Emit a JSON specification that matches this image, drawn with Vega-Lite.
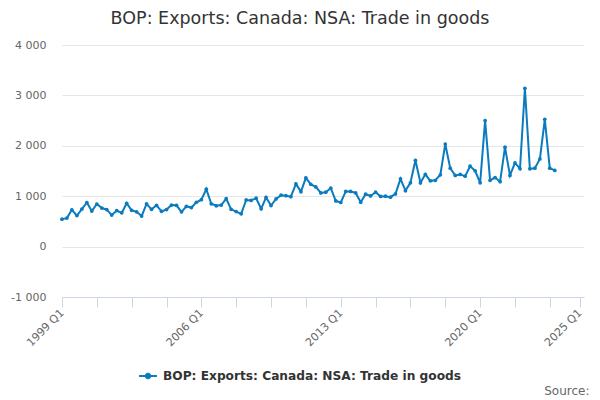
{
  "$schema": "https://vega.github.io/schema/vega-lite/v6.json",
  "autosize": "none",
  "width": 522,
  "height": 252,
  "padding": {"left": 62, "top": 45, "right": 16, "bottom": 103},
  "background": "white",
  "config": {
    "font": "DejaVu Sans",
    "view": {"stroke": null}
  },
  "title": {
    "text": "BOP: Exports: Canada: NSA: Trade in goods",
    "font": "DejaVu Sans",
    "fontSize": 17.5,
    "fontWeight": "normal",
    "color": "#333333",
    "anchor": "middle",
    "dx": -23,
    "offset": 12
  },
  "data": {
    "values": [
      {"quarter": "1999-01-01", "value": 545, "series": "BOP: Exports: Canada: NSA: Trade in goods"},
      {"quarter": "1999-04-01", "value": 565, "series": "BOP: Exports: Canada: NSA: Trade in goods"},
      {"quarter": "1999-07-01", "value": 730, "series": "BOP: Exports: Canada: NSA: Trade in goods"},
      {"quarter": "1999-10-01", "value": 615, "series": "BOP: Exports: Canada: NSA: Trade in goods"},
      {"quarter": "2000-01-01", "value": 745, "series": "BOP: Exports: Canada: NSA: Trade in goods"},
      {"quarter": "2000-04-01", "value": 875, "series": "BOP: Exports: Canada: NSA: Trade in goods"},
      {"quarter": "2000-07-01", "value": 705, "series": "BOP: Exports: Canada: NSA: Trade in goods"},
      {"quarter": "2000-10-01", "value": 845, "series": "BOP: Exports: Canada: NSA: Trade in goods"},
      {"quarter": "2001-01-01", "value": 765, "series": "BOP: Exports: Canada: NSA: Trade in goods"},
      {"quarter": "2001-04-01", "value": 735, "series": "BOP: Exports: Canada: NSA: Trade in goods"},
      {"quarter": "2001-07-01", "value": 625, "series": "BOP: Exports: Canada: NSA: Trade in goods"},
      {"quarter": "2001-10-01", "value": 715, "series": "BOP: Exports: Canada: NSA: Trade in goods"},
      {"quarter": "2002-01-01", "value": 670, "series": "BOP: Exports: Canada: NSA: Trade in goods"},
      {"quarter": "2002-04-01", "value": 860, "series": "BOP: Exports: Canada: NSA: Trade in goods"},
      {"quarter": "2002-07-01", "value": 720, "series": "BOP: Exports: Canada: NSA: Trade in goods"},
      {"quarter": "2002-10-01", "value": 690, "series": "BOP: Exports: Canada: NSA: Trade in goods"},
      {"quarter": "2003-01-01", "value": 605, "series": "BOP: Exports: Canada: NSA: Trade in goods"},
      {"quarter": "2003-04-01", "value": 850, "series": "BOP: Exports: Canada: NSA: Trade in goods"},
      {"quarter": "2003-07-01", "value": 740, "series": "BOP: Exports: Canada: NSA: Trade in goods"},
      {"quarter": "2003-10-01", "value": 820, "series": "BOP: Exports: Canada: NSA: Trade in goods"},
      {"quarter": "2004-01-01", "value": 700, "series": "BOP: Exports: Canada: NSA: Trade in goods"},
      {"quarter": "2004-04-01", "value": 735, "series": "BOP: Exports: Canada: NSA: Trade in goods"},
      {"quarter": "2004-07-01", "value": 825, "series": "BOP: Exports: Canada: NSA: Trade in goods"},
      {"quarter": "2004-10-01", "value": 820, "series": "BOP: Exports: Canada: NSA: Trade in goods"},
      {"quarter": "2005-01-01", "value": 690, "series": "BOP: Exports: Canada: NSA: Trade in goods"},
      {"quarter": "2005-04-01", "value": 800, "series": "BOP: Exports: Canada: NSA: Trade in goods"},
      {"quarter": "2005-07-01", "value": 775, "series": "BOP: Exports: Canada: NSA: Trade in goods"},
      {"quarter": "2005-10-01", "value": 880, "series": "BOP: Exports: Canada: NSA: Trade in goods"},
      {"quarter": "2006-01-01", "value": 930, "series": "BOP: Exports: Canada: NSA: Trade in goods"},
      {"quarter": "2006-04-01", "value": 1140, "series": "BOP: Exports: Canada: NSA: Trade in goods"},
      {"quarter": "2006-07-01", "value": 850, "series": "BOP: Exports: Canada: NSA: Trade in goods"},
      {"quarter": "2006-10-01", "value": 810, "series": "BOP: Exports: Canada: NSA: Trade in goods"},
      {"quarter": "2007-01-01", "value": 825, "series": "BOP: Exports: Canada: NSA: Trade in goods"},
      {"quarter": "2007-04-01", "value": 950, "series": "BOP: Exports: Canada: NSA: Trade in goods"},
      {"quarter": "2007-07-01", "value": 740, "series": "BOP: Exports: Canada: NSA: Trade in goods"},
      {"quarter": "2007-10-01", "value": 695, "series": "BOP: Exports: Canada: NSA: Trade in goods"},
      {"quarter": "2008-01-01", "value": 650, "series": "BOP: Exports: Canada: NSA: Trade in goods"},
      {"quarter": "2008-04-01", "value": 925, "series": "BOP: Exports: Canada: NSA: Trade in goods"},
      {"quarter": "2008-07-01", "value": 915, "series": "BOP: Exports: Canada: NSA: Trade in goods"},
      {"quarter": "2008-10-01", "value": 960, "series": "BOP: Exports: Canada: NSA: Trade in goods"},
      {"quarter": "2009-01-01", "value": 750, "series": "BOP: Exports: Canada: NSA: Trade in goods"},
      {"quarter": "2009-04-01", "value": 975, "series": "BOP: Exports: Canada: NSA: Trade in goods"},
      {"quarter": "2009-07-01", "value": 815, "series": "BOP: Exports: Canada: NSA: Trade in goods"},
      {"quarter": "2009-10-01", "value": 945, "series": "BOP: Exports: Canada: NSA: Trade in goods"},
      {"quarter": "2010-01-01", "value": 1020, "series": "BOP: Exports: Canada: NSA: Trade in goods"},
      {"quarter": "2010-04-01", "value": 1010, "series": "BOP: Exports: Canada: NSA: Trade in goods"},
      {"quarter": "2010-07-01", "value": 990, "series": "BOP: Exports: Canada: NSA: Trade in goods"},
      {"quarter": "2010-10-01", "value": 1245, "series": "BOP: Exports: Canada: NSA: Trade in goods"},
      {"quarter": "2011-01-01", "value": 1090, "series": "BOP: Exports: Canada: NSA: Trade in goods"},
      {"quarter": "2011-04-01", "value": 1365, "series": "BOP: Exports: Canada: NSA: Trade in goods"},
      {"quarter": "2011-07-01", "value": 1235, "series": "BOP: Exports: Canada: NSA: Trade in goods"},
      {"quarter": "2011-10-01", "value": 1185, "series": "BOP: Exports: Canada: NSA: Trade in goods"},
      {"quarter": "2012-01-01", "value": 1065, "series": "BOP: Exports: Canada: NSA: Trade in goods"},
      {"quarter": "2012-04-01", "value": 1080, "series": "BOP: Exports: Canada: NSA: Trade in goods"},
      {"quarter": "2012-07-01", "value": 1160, "series": "BOP: Exports: Canada: NSA: Trade in goods"},
      {"quarter": "2012-10-01", "value": 905, "series": "BOP: Exports: Canada: NSA: Trade in goods"},
      {"quarter": "2013-01-01", "value": 875, "series": "BOP: Exports: Canada: NSA: Trade in goods"},
      {"quarter": "2013-04-01", "value": 1095, "series": "BOP: Exports: Canada: NSA: Trade in goods"},
      {"quarter": "2013-07-01", "value": 1095, "series": "BOP: Exports: Canada: NSA: Trade in goods"},
      {"quarter": "2013-10-01", "value": 1065, "series": "BOP: Exports: Canada: NSA: Trade in goods"},
      {"quarter": "2014-01-01", "value": 880, "series": "BOP: Exports: Canada: NSA: Trade in goods"},
      {"quarter": "2014-04-01", "value": 1040, "series": "BOP: Exports: Canada: NSA: Trade in goods"},
      {"quarter": "2014-07-01", "value": 1005, "series": "BOP: Exports: Canada: NSA: Trade in goods"},
      {"quarter": "2014-10-01", "value": 1080, "series": "BOP: Exports: Canada: NSA: Trade in goods"},
      {"quarter": "2015-01-01", "value": 995, "series": "BOP: Exports: Canada: NSA: Trade in goods"},
      {"quarter": "2015-04-01", "value": 1000, "series": "BOP: Exports: Canada: NSA: Trade in goods"},
      {"quarter": "2015-07-01", "value": 980, "series": "BOP: Exports: Canada: NSA: Trade in goods"},
      {"quarter": "2015-10-01", "value": 1045, "series": "BOP: Exports: Canada: NSA: Trade in goods"},
      {"quarter": "2016-01-01", "value": 1345, "series": "BOP: Exports: Canada: NSA: Trade in goods"},
      {"quarter": "2016-04-01", "value": 1110, "series": "BOP: Exports: Canada: NSA: Trade in goods"},
      {"quarter": "2016-07-01", "value": 1266, "series": "BOP: Exports: Canada: NSA: Trade in goods"},
      {"quarter": "2016-10-01", "value": 1713, "series": "BOP: Exports: Canada: NSA: Trade in goods"},
      {"quarter": "2017-01-01", "value": 1266, "series": "BOP: Exports: Canada: NSA: Trade in goods"},
      {"quarter": "2017-04-01", "value": 1435, "series": "BOP: Exports: Canada: NSA: Trade in goods"},
      {"quarter": "2017-07-01", "value": 1305, "series": "BOP: Exports: Canada: NSA: Trade in goods"},
      {"quarter": "2017-10-01", "value": 1315, "series": "BOP: Exports: Canada: NSA: Trade in goods"},
      {"quarter": "2018-01-01", "value": 1425, "series": "BOP: Exports: Canada: NSA: Trade in goods"},
      {"quarter": "2018-04-01", "value": 2035, "series": "BOP: Exports: Canada: NSA: Trade in goods"},
      {"quarter": "2018-07-01", "value": 1557, "series": "BOP: Exports: Canada: NSA: Trade in goods"},
      {"quarter": "2018-10-01", "value": 1411, "series": "BOP: Exports: Canada: NSA: Trade in goods"},
      {"quarter": "2019-01-01", "value": 1431, "series": "BOP: Exports: Canada: NSA: Trade in goods"},
      {"quarter": "2019-04-01", "value": 1398, "series": "BOP: Exports: Canada: NSA: Trade in goods"},
      {"quarter": "2019-07-01", "value": 1595, "series": "BOP: Exports: Canada: NSA: Trade in goods"},
      {"quarter": "2019-10-01", "value": 1505, "series": "BOP: Exports: Canada: NSA: Trade in goods"},
      {"quarter": "2020-01-01", "value": 1265, "series": "BOP: Exports: Canada: NSA: Trade in goods"},
      {"quarter": "2020-04-01", "value": 2500, "series": "BOP: Exports: Canada: NSA: Trade in goods"},
      {"quarter": "2020-07-01", "value": 1315, "series": "BOP: Exports: Canada: NSA: Trade in goods"},
      {"quarter": "2020-10-01", "value": 1370, "series": "BOP: Exports: Canada: NSA: Trade in goods"},
      {"quarter": "2021-01-01", "value": 1288, "series": "BOP: Exports: Canada: NSA: Trade in goods"},
      {"quarter": "2021-04-01", "value": 1972, "series": "BOP: Exports: Canada: NSA: Trade in goods"},
      {"quarter": "2021-07-01", "value": 1411, "series": "BOP: Exports: Canada: NSA: Trade in goods"},
      {"quarter": "2021-10-01", "value": 1660, "series": "BOP: Exports: Canada: NSA: Trade in goods"},
      {"quarter": "2022-01-01", "value": 1547, "series": "BOP: Exports: Canada: NSA: Trade in goods"},
      {"quarter": "2022-04-01", "value": 3141, "series": "BOP: Exports: Canada: NSA: Trade in goods"},
      {"quarter": "2022-07-01", "value": 1544, "series": "BOP: Exports: Canada: NSA: Trade in goods"},
      {"quarter": "2022-10-01", "value": 1557, "series": "BOP: Exports: Canada: NSA: Trade in goods"},
      {"quarter": "2023-01-01", "value": 1740, "series": "BOP: Exports: Canada: NSA: Trade in goods"},
      {"quarter": "2023-04-01", "value": 2525, "series": "BOP: Exports: Canada: NSA: Trade in goods"},
      {"quarter": "2023-07-01", "value": 1557, "series": "BOP: Exports: Canada: NSA: Trade in goods"},
      {"quarter": "2023-10-01", "value": 1511, "series": "BOP: Exports: Canada: NSA: Trade in goods"}
    ]
  },
  "mark": {
    "type": "line",
    "strokeWidth": 2,
    "point": {"size": 14, "filled": true}
  },
  "encoding": {
    "x": {
      "field": "quarter",
      "type": "temporal",
      "scale": {
        "type": "utc",
        "domain": [
          {"year": 1999, "month": 1, "date": 1, "utc": true},
          {"year": 2025, "month": 3, "date": 20, "utc": true}
        ]
      },
      "axis": {
        "title": "Source:",
        "titleFont": "DejaVu Sans",
        "titleFontSize": 12,
        "titleFontWeight": "normal",
        "titleColor": "#666666",
        "titleAnchor": "end",
        "titleAlign": "right",
        "titleBaseline": "alphabetic",
        "titleX": 527,
        "titleY": 97,
        "values": [
          {"year": 1999, "month": 1, "date": 1, "utc": true},
          {"year": 2000, "month": 10, "date": 1, "utc": true},
          {"year": 2002, "month": 7, "date": 1, "utc": true},
          {"year": 2004, "month": 4, "date": 1, "utc": true},
          {"year": 2006, "month": 1, "date": 1, "utc": true},
          {"year": 2007, "month": 10, "date": 1, "utc": true},
          {"year": 2009, "month": 7, "date": 1, "utc": true},
          {"year": 2011, "month": 4, "date": 1, "utc": true},
          {"year": 2013, "month": 1, "date": 1, "utc": true},
          {"year": 2014, "month": 10, "date": 1, "utc": true},
          {"year": 2016, "month": 7, "date": 1, "utc": true},
          {"year": 2018, "month": 4, "date": 1, "utc": true},
          {"year": 2020, "month": 1, "date": 1, "utc": true},
          {"year": 2021, "month": 10, "date": 1, "utc": true},
          {"year": 2023, "month": 7, "date": 1, "utc": true},
          {"year": 2025, "month": 1, "date": 1, "utc": true}
        ],
        "labelExpr": "indexof([1999, 2006, 2013, 2020, 2025], utcyear(datum.value)) >= 0 && utcmonth(datum.value) == 0 ? utcyear(datum.value) + ' Q1' : ''",
        "labelAngle": -45,
        "labelAlign": "right",
        "labelBaseline": "middle",
        "labelFont": "DejaVu Sans",
        "labelFontSize": 11,
        "labelColor": "#666666",
        "labelPadding": 4,
        "labelOverlap": false,
        "labelBound": false,
        "labelFlush": false,
        "grid": false,
        "domainColor": "#ccd6eb",
        "tickColor": "#ccd6eb",
        "tickSize": 10
      }
    },
    "y": {
      "field": "value",
      "type": "quantitative",
      "scale": {"domain": [-1000, 4000], "nice": false, "zero": false},
      "axis": {
        "title": null,
        "values": [-1000, 0, 1000, 2000, 3000, 4000],
        "labelExpr": "datum.value == 0 ? '0' : (datum.value < 0 ? '-' : '') + format(abs(datum.value) / 1000, 'd') + ' 000'",
        "labelFont": "DejaVu Sans",
        "labelFontSize": 11,
        "labelColor": "#666666",
        "labelPadding": 16,
        "domain": false,
        "ticks": false,
        "gridColor": "#e6e6e6"
      }
    },
    "color": {
      "field": "series",
      "type": "nominal",
      "scale": {"range": ["#0a7bbf"]},
      "legend": {
        "title": null,
        "orient": "none",
        "legendX": 76,
        "legendY": 321,
        "labelFont": "DejaVu Sans",
        "labelFontSize": 12.2,
        "labelFontWeight": "bold",
        "labelColor": "#333333",
        "labelLimit": 0,
        "labelOffset": 5,
        "symbolType": "M -1 0 L 1 0 M -0.25 0 A 0.25 0.25 0 1 1 0.25 0 A 0.25 0.25 0 1 1 -0.25 0",
        "symbolSize": 320,
        "symbolStrokeWidth": 2,
        "symbolFillColor": "#0a7bbf"
      }
    }
  }
}
